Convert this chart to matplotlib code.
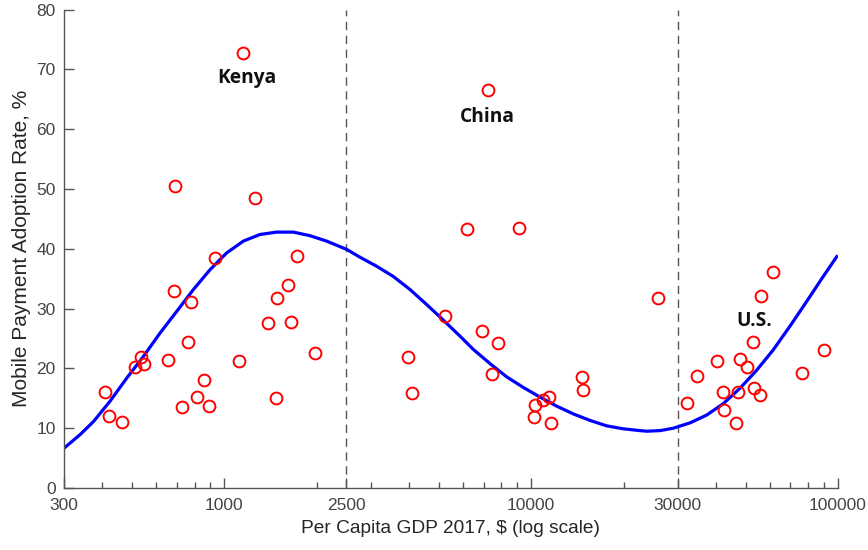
import numpy as np
import matplotlib
matplotlib.use("Agg")
import matplotlib.pyplot as plt
from matplotlib.ticker import FixedLocator, NullFormatter

# ----- data -----
gdp = [690, 1258, 932, 1729, 1608, 1481, 683, 780, 1384, 1652,
       761, 1973, 536, 548, 511, 655, 1118, 408, 421, 465,
       858, 812, 727, 891, 1473, 1149,
       6163, 9145, 25900, 5247, 6911, 7795, 3976, 7433, 4097, 14640,
       14720, 11430, 10900, 10310, 10190, 11630, 7229,
       61520, 55960, 52830, 90000, 76480, 40420, 47810, 50600, 34700,
       42270, 47100, 53350, 55680, 32120, 42590, 46600]
rate = [50.5, 48.5, 38.4, 38.8, 33.9, 31.8, 32.9, 31.1, 27.6, 27.8,
        24.4, 22.6, 21.9, 20.8, 20.2, 21.4, 21.2, 16.1, 12.0, 11.0,
        18.0, 15.2, 13.5, 13.7, 15.1, 72.8,
        43.4, 43.5, 31.8, 28.8, 26.3, 24.3, 21.9, 19.0, 15.9, 18.6,
        16.4, 15.2, 14.7, 13.9, 11.9, 10.9, 66.6,
        36.2, 32.1, 24.5, 23.0, 19.3, 21.3, 21.5, 20.2, 18.8,
        16.1, 16.1, 16.8, 15.6, 14.3, 13.0, 10.9]

# fitted trend line (log10 of GDP, rate)
curve_log = [2.477, 2.529, 2.573, 2.627, 2.682, 2.736, 2.790, 2.844, 2.899,
             2.953, 3.007, 3.062, 3.116, 3.170, 3.225, 3.279, 3.333, 3.399,
             3.442, 3.496, 3.550, 3.605, 3.659, 3.703, 3.768, 3.811, 3.866,
             3.920, 3.975, 4.029, 4.083, 4.137, 4.192, 4.246, 4.300, 4.355,
             4.377, 4.420, 4.463, 4.518, 4.572, 4.626, 4.681, 4.735, 4.789,
             4.844, 4.898, 4.947, 4.996]
curve_rate = [6.65, 8.9, 11.1, 14.5, 18.4, 22.0, 25.9, 29.5, 33.2,
              36.5, 39.3, 41.3, 42.4, 42.8, 42.8, 42.2, 41.3, 39.9,
              38.6, 37.1, 35.4, 33.2, 30.7, 28.6, 25.4, 23.2, 20.8,
              18.6, 16.8, 15.2, 13.7, 12.4, 11.3, 10.4, 9.9, 9.6,
              9.5, 9.6, 10.0, 10.9, 12.2, 14.1, 16.7, 19.7, 23.1,
              27.1, 31.2, 35.0, 38.7]

labels = ["Kenya", "China", "U.S."]
label_gdp = [1184, 7180, 53200]
label_rate = [68.6, 62.0, 27.9]

xticks = [300, 1000, 2500, 10000, 30000, 100000]
cutoffs = [2500, 30000]

# ----- figure -----
fig = plt.figure(figsize=(8.68, 5.5), dpi=100)
ax = fig.add_axes([0.0737, 0.1127, 0.8917, 0.8697])

ax.plot(10 ** np.array(curve_log), curve_rate, color="#0000ff", lw=2.3,
        solid_joinstyle="round", zorder=2)
ax.plot(gdp, rate, "o", mfc="none", mec="#ff0000", ms=8.5, mew=1.4, zorder=3)

for c in cutoffs:
    ax.axvline(c, color="#555555", lw=1.0, ls=(0, (6, 4)), zorder=1)

for t, gx, gy in zip(labels, label_gdp, label_rate):
    ax.text(gx, gy, t, ha="center", va="center", fontsize=13.8,
            fontweight="bold", family="Open Sans", color="#111111")

ax.set_xscale("log")
ax.set_xlim(300, 100000)
ax.set_ylim(0, 80)
ax.xaxis.set_major_locator(FixedLocator(xticks))
ax.set_xticklabels([str(t) for t in xticks])
minor = [m * 10 ** e for e in range(2, 5) for m in range(2, 10)]
minor = [m for m in minor if 300 < m < 100000 and m not in xticks]
ax.xaxis.set_minor_locator(FixedLocator(minor))
ax.xaxis.set_minor_formatter(NullFormatter())
ax.set_yticks(range(0, 81, 10))

for s in ["top", "right"]:
    ax.spines[s].set_visible(False)
for s in ["left", "bottom"]:
    ax.spines[s].set_color("#555555")
    ax.spines[s].set_linewidth(1.0)

ax.tick_params(axis="both", which="major", direction="in", length=7,
               width=1, color="#555555", labelcolor="#444444", labelsize=12.5)
ax.tick_params(axis="x", which="minor", direction="in", length=4,
               width=1, color="#555555")
ax.tick_params(axis="x", pad=7)
ax.tick_params(axis="y", pad=6)
for lab in ax.get_xticklabels() + ax.get_yticklabels():
    lab.set_family("Liberation Sans")

ax.set_xlabel("Per Capita GDP 2017, $ (log scale)", fontsize=13.8,
              family="Liberation Sans", color="#262626", labelpad=5)
ax.set_ylabel("Mobile Payment Adoption Rate, %", fontsize=15,
              family="Liberation Sans", color="#262626", labelpad=4)

fig.savefig("out.png", dpi=100)
